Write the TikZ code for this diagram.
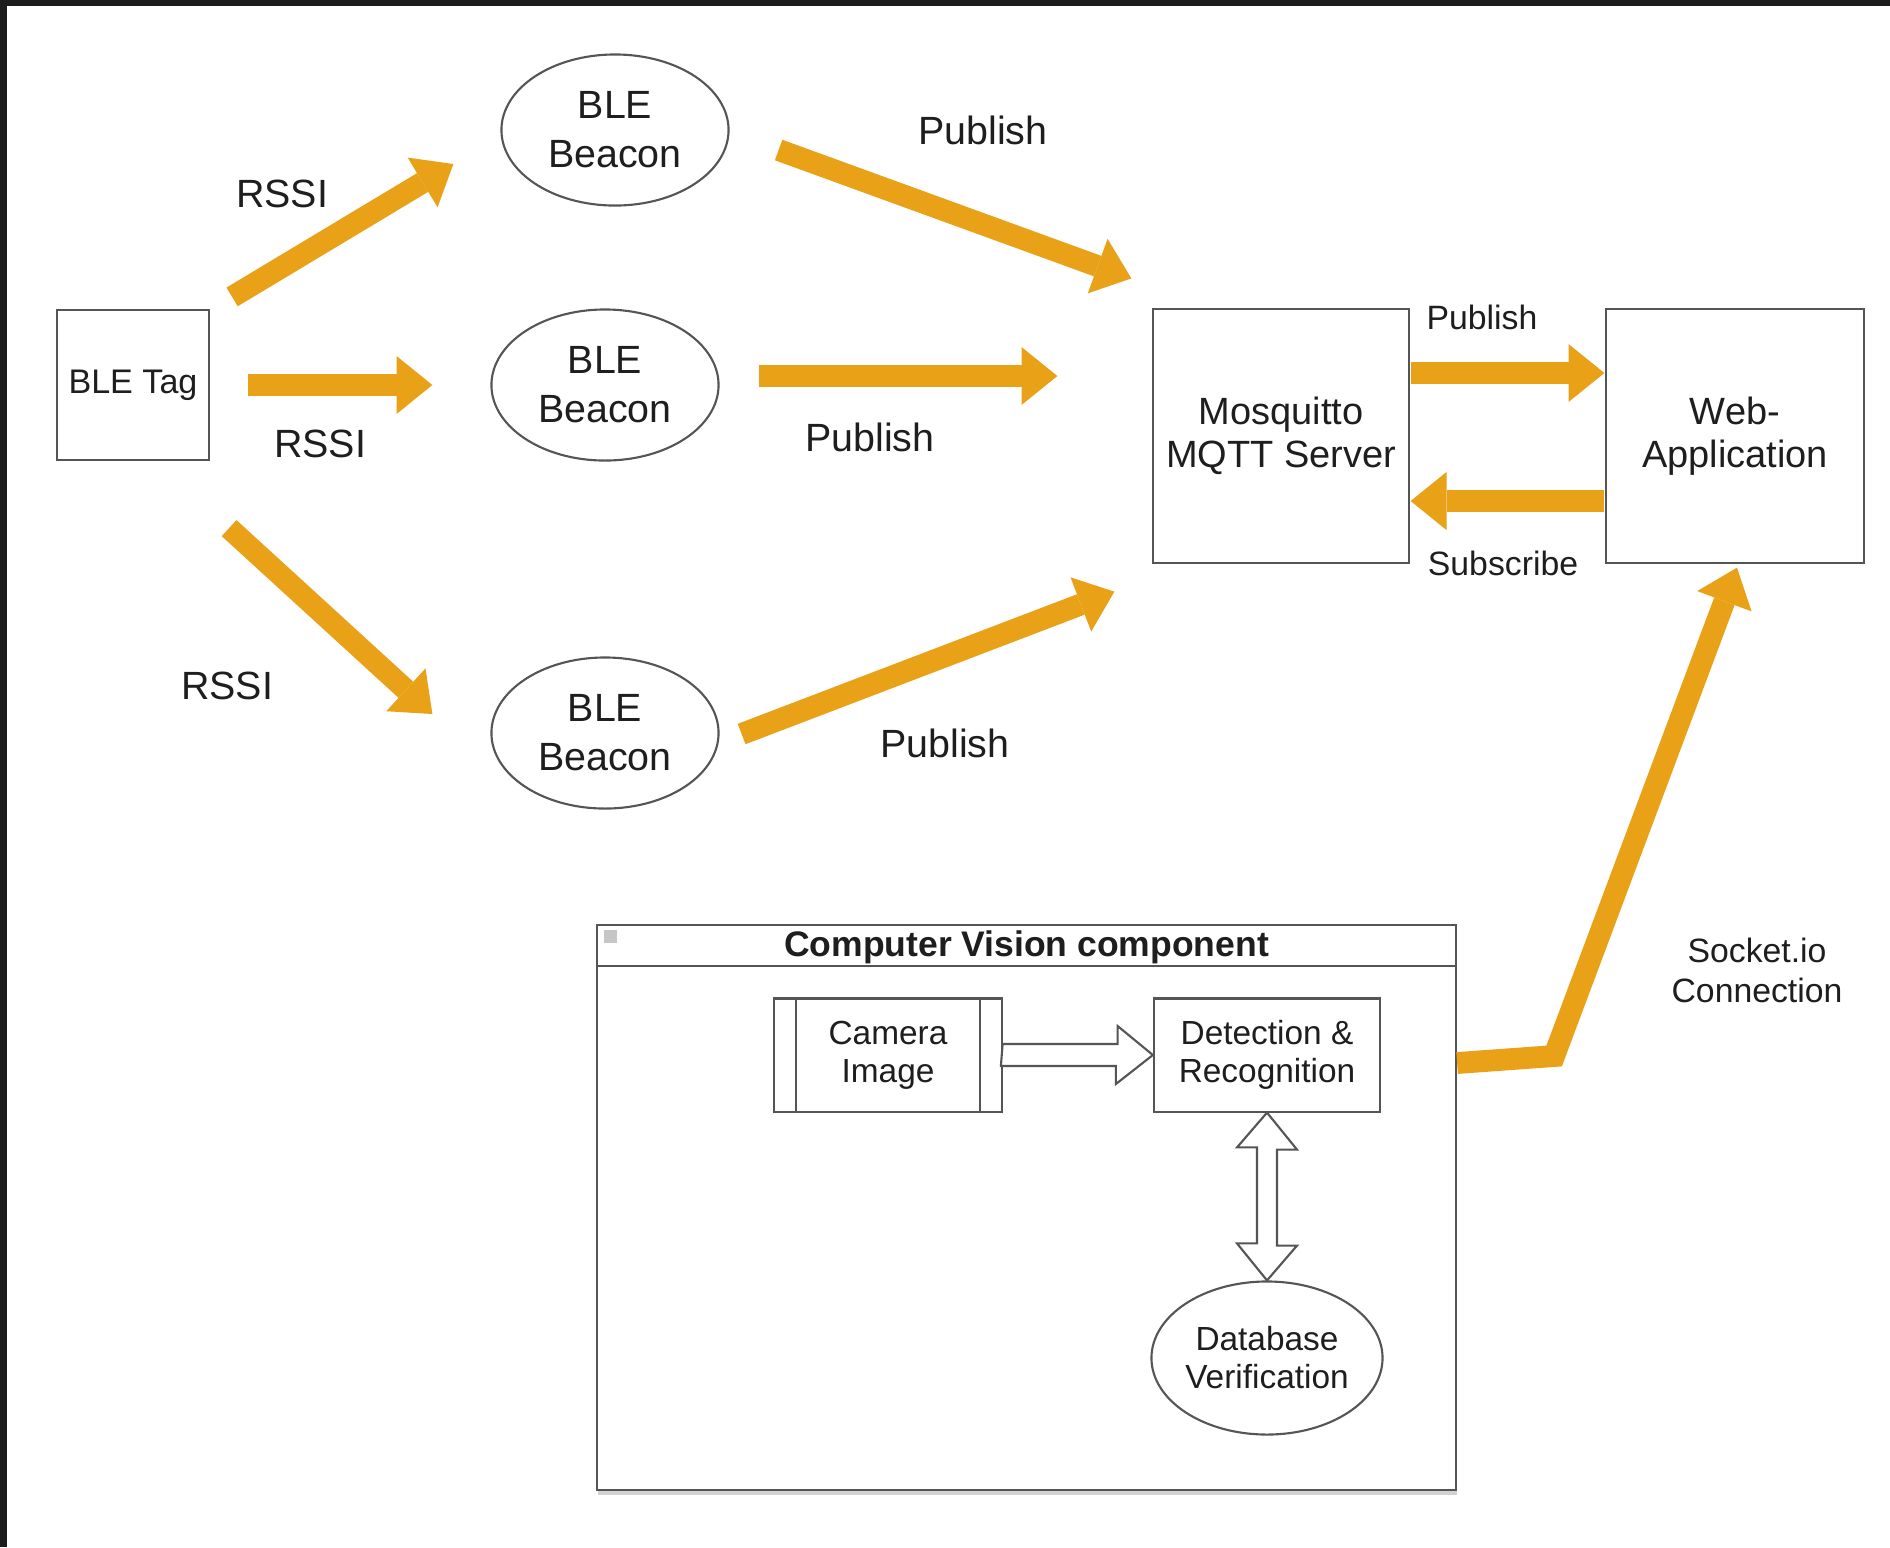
\documentclass[tikz,border=0pt]{standalone}
\usepackage{fontspec}
\setmainfont{Liberation Sans}
\usetikzlibrary{calc,arrows.meta,shapes.geometric}

\definecolor{flowor}{RGB}{233,161,24}
\definecolor{edge}{RGB}{85,85,85}
\definecolor{ink}{RGB}{30,30,30}
\definecolor{bezel}{RGB}{28,28,28}

\tikzset{
  box/.style={draw=edge,line width=0.6pt,text=ink,align=center,inner sep=0pt},
  beacon/.style={box,ellipse,minimum width=2.27cm,minimum height=1.51cm,font=\fontsize{11.2}{14}\selectfont},
  flow/.style={draw=flowor,line width=6.2pt,-{Triangle[length=10.2pt,width=16.5pt,line width=0pt]}},
  hollow/.style={draw=edge,line width=0.6pt,fill=white,line join=miter},
  lbl/.style={text=ink,align=center,inner sep=0pt},
  big/.style={font=\fontsize{11.2}{14}\selectfont},
  small/.style={font=\fontsize{9.6}{11.4}\selectfont},
  inner/.style={font=\fontsize{9.5}{10.8}\selectfont}
}

\begin{document}
\begin{tikzpicture}[x=0.01cm,y=-0.01cm]
\useasboundingbox (0,0) rectangle (1890,1547);
\fill[bezel] (0,0) rectangle (1890,1547);
\fill[white] (7,6) rectangle (1890,1547);

% BLE side
\node[box,minimum width=1.52cm,minimum height=1.5cm,font=\fontsize{9.7}{11}\selectfont] (tag) at (133,385) {BLE Tag};
\node[beacon] (bcn1) at (615,130) {BLE\\Beacon};
\node[beacon] (bcn2) at (605,385) {BLE\\Beacon};
\node[beacon] (bcn3) at (605,733) {BLE\\Beacon};

\node[box,minimum width=2.55cm,minimum height=2.53cm,font=\fontsize{10.8}{12.2}\selectfont] (mqtt) at (1281,436) {Mosquitto\\MQTT Server};
\node[box,minimum width=2.57cm,minimum height=2.53cm,font=\fontsize{10.8}{12.2}\selectfont] (web) at (1735,436) {Web-\\Application};

% computer vision part
\draw[gray!35,line width=1.2pt] (598,1493) -- (1457,1493);
\node[box,minimum width=8.59cm,minimum height=5.65cm] (cv) at (1026.5,1207.5) {};
\draw[edge,line width=0.6pt] ([shift={(0,42)}]cv.north west) -- ([shift={(0,42)}]cv.north east);
\fill[gray!45] ([shift={(8,6)}]cv.north west) rectangle ([shift={(21,19)}]cv.north west);
\node[lbl,font=\bfseries\fontsize{10.1}{12}\selectfont] (cvtitle) at ([shift={(0,24)}]cv.north) {Computer Vision component};

\node[box,inner,minimum width=2.27cm,minimum height=1.13cm] (cam) at (888,1055) {Camera\\Image};
\draw[edge,line width=0.6pt] ([shift={(23,0)}]cam.north west) -- ([shift={(23,0)}]cam.south west);
\draw[edge,line width=0.6pt] ([shift={(-23,0)}]cam.north east) -- ([shift={(-23,0)}]cam.south east);
\node[box,inner,minimum width=2.26cm,minimum height=1.13cm] (det) at (1267,1055) {Detection \&\\Recognition};
\node[box,inner,ellipse,minimum width=2.26cm,minimum height=1.53cm] (db) at (1267,1358) {Database\\Verification};

\draw[hollow] ([shift={(0,-11)}]cam.east) -- ++(115,0) -- ++(0,-18) -- (det.west)
  -- ++(-37,29) -- ++(0,-18) -- ++(-115,0) -- cycle;
\draw[hollow] (det.south) -- ++(30,37) -- ++(-20,0) -- ++(0,96) -- ++(20,0) -- (db.north)
  -- ++(-30,-37) -- ++(20,0) -- ++(0,-96) -- ++(-20,0) -- cycle;

% orange arrows
\draw[flow] ([shift={(22,-12)}]tag.north east) -- ([shift={(-47,34)}]bcn1.west);
\draw[flow] ([shift={(38,0)}]tag.east) -- ([shift={(-58,0)}]bcn2.west);
\draw[flow] ([shift={(19,67)}]tag.south east) -- ([shift={(-58,-19)}]bcn3.west);
\draw[flow] ([shift={(49,20)}]bcn1.east) -- ([shift={(-21,-30)}]mqtt.north west);
\draw[flow] ([shift={(39,-9)}]bcn2.east) -- ([shift={(-95,-60)}]mqtt.west);
\draw[flow] ([shift={(22,1)}]bcn3.east) -- ([shift={(-38,28)}]mqtt.south west);
\draw[flow] ([shift={(1,-63)}]mqtt.east) -- ([shift={(-1,-63)}]web.west);
\draw[flow] ([shift={(-1,65)}]web.west) -- ([shift={(1,65)}]mqtt.east);
\draw[flow,line join=miter] ([shift={(76,8)}]det.east) -- ([shift={(173,1)}]det.east) -- ([shift={(2,4)}]web.south);

% labels
\node[lbl,big] (rssi1) at (282,194) {RSSI};
\node[lbl,big] (rssi2) at (320,444) {RSSI};
\node[lbl,big] (rssi3) at (227,686) {RSSI};
\node[lbl,big] (pub1) at (983,130) {Publish};
\node[lbl,big] (pub2) at (870,437) {Publish};
\node[lbl,big] (pub3) at (945,743) {Publish};
\node[lbl,small] (pub4) at (1482,317) {Publish};
\node[lbl,small] (sub) at (1503,563) {Subscribe};
\node[lbl,small] (sock) at (1757,970) {Socket.io\\Connection};
\end{tikzpicture}
\end{document}
